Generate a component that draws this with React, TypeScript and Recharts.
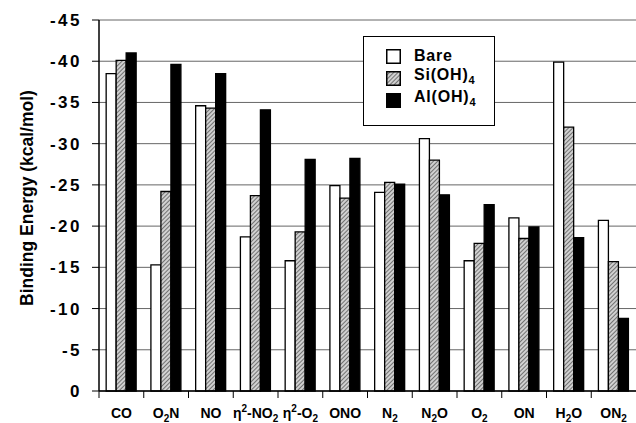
import React from 'react';
import { BarChart, Bar, XAxis, YAxis, CartesianGrid, Legend, Label } from 'recharts';

// "_2" = subscript, "^2" = superscript
const categories = ['CO', 'O_2N', 'NO', 'η^2-NO_2', 'η^2-O_2', 'ONO', 'N_2', 'N_2O', 'O_2', 'ON', 'H_2O', 'ON_2'];
const bare = [-38.5, -15.3, -34.6, -18.7, -15.8, -24.9, -24.1, -30.6, -15.8, -21.0, -39.9, -20.7];
const siOH4 = [-40.1, -24.2, -34.3, -23.7, -19.3, -23.4, -25.3, -28.0, -17.9, -18.5, -32.0, -15.7];
const alOH4 = [-41.0, -39.6, -38.5, -34.1, -28.1, -28.2, -25.1, -23.8, -22.6, -19.9, -18.6, -8.8];
const yTicks = [-45, -40, -35, -30, -25, -20, -15, -10, -5, 0];

const data = categories.map((name, i) => ({ name, bare: bare[i], si: siOH4[i], al: alOH4[i] }));

const W = 636;
const H = 423;
const AXIS_W = 99;
const HALF = (W - AXIS_W) / categories.length / 2;
const FONT = '"Liberation Sans", Arial, sans-serif';

function parts(label: string) {
  return label.split(/([_^]\d)/).filter(Boolean);
}

function XTick({ x, y, payload }: any) {
  const segs = parts(payload.value);
  let shift = 0;
  return (
    <g>
      <line x1={x - HALF} x2={x - HALF} y1={y} y2={y + 7} stroke="#000" strokeWidth={1} />
      <text x={x} y={y + 27} textAnchor="middle" fontSize={14} fontWeight="bold" fontFamily={FONT} fill="#000">
        {segs.map((s, i) => {
          if (s[0] === '_' || s[0] === '^') {
            const d = s[0] === '_' ? 4 : -6;
            shift = d;
            return <tspan key={i} dy={d} fontSize={10}>{s.slice(1)}</tspan>;
          }
          const back = -shift;
          shift = 0;
          return <tspan key={i} dy={back}>{s}</tspan>;
        })}
      </text>
    </g>
  );
}

function Swatch({ kind }: { kind: string }) {
  return (
    <svg width={15} height={15} style={{ display: 'block' }}>
      <defs>
        <pattern id="hatchLegend" width={3} height={3} patternUnits="userSpaceOnUse" patternTransform="rotate(45)">
          <rect width={3} height={3} fill="#d0d0d0" />
          <line x1={0} y1={0} x2={0} y2={3} stroke="#333" strokeWidth={1.2} />
        </pattern>
      </defs>
      <rect x={0.75} y={0.75} width={13.5} height={13.5} stroke="#000" strokeWidth={1.5}
        fill={kind === 'bare' ? '#fff' : kind === 'si' ? 'url(#hatchLegend)' : '#000'} />
    </svg>
  );
}

function LegendBox() {
  const rows = [
    { key: 'bare', text: <>Bare</> },
    { key: 'si', text: <>Si(OH)<sub style={{ fontSize: 11 }}>4</sub></> },
    { key: 'al', text: <>Al(OH)<sub style={{ fontSize: 11 }}>4</sub></> },
  ];
  return (
    <div style={{
      width: 130, height: 80, border: '1.5px solid #000', background: '#fff',
      boxSizing: 'content-box', paddingTop: 8, fontFamily: FONT,
    }}>
      {rows.map((r) => (
        <div key={r.key} style={{ display: 'flex', alignItems: 'center', height: 22, marginLeft: 22 }}>
          <Swatch kind={r.key} />
          <span style={{ marginLeft: 13, fontSize: 16, fontWeight: 'bold', lineHeight: '16px', letterSpacing: 0.8 }}>{r.text}</span>
        </div>
      ))}
    </div>
  );
}

export default function App() {
  return (
    <div style={{ position: 'absolute', left: 0, top: 0, width: W, height: H, background: '#fff', fontFamily: FONT }}>
      <BarChart width={W} height={H} data={data} margin={{ top: 20, right: 0, bottom: 0, left: 0 }}
        barCategoryGap="16%" barGap={0}>
        <defs>
          <pattern id="hatch" width={3} height={3} patternUnits="userSpaceOnUse" patternTransform="rotate(45)">
            <rect width={3} height={3} fill="#d0d0d0" />
            <line x1={0} y1={0} x2={0} y2={3} stroke="#333" strokeWidth={1.2} />
          </pattern>
        </defs>
        <CartesianGrid vertical={false} stroke="#666" strokeWidth={1} />
        <XAxis dataKey="name" height={32} tick={<XTick />} tickLine={false} tickSize={0} tickMargin={0}
          axisLine={{ stroke: '#000', strokeWidth: 1.5 }} interval={0} />
        <YAxis width={AXIS_W} domain={[-45, 0]} reversed ticks={yTicks} interval={0}
          tickSize={7} tickMargin={10} tickLine={{ stroke: '#000' }} axisLine={{ stroke: '#000', strokeWidth: 1.5 }}
          tick={{ fontSize: 17, fontWeight: 'bold', fill: '#000', fontFamily: FONT, letterSpacing: 2.5 }}>
          <Label content={() => (
            <text x={33} y={198} transform="rotate(-90 33 198)"
              textAnchor="middle" fontSize={17.5} fontWeight="bold" fontFamily={FONT} fill="#000">
              Binding Energy (kcal/mol)
            </text>
          )} />
        </YAxis>
        <Legend layout="vertical" align="center" verticalAlign="middle" content={<LegendBox />}
          wrapperStyle={{ left: 363, top: 36, width: 'auto', height: 'auto' }} />
        <Bar dataKey="bare" name="Bare" fill="#fff" stroke="#000" strokeWidth={1.3} isAnimationActive={false} />
        <Bar dataKey="si" name="Si(OH)4" fill="url(#hatch)" stroke="#000" strokeWidth={1.3} isAnimationActive={false} />
        <Bar dataKey="al" name="Al(OH)4" fill="#000" stroke="#000" strokeWidth={1.3} isAnimationActive={false} />
      </BarChart>
    </div>
  );
}
